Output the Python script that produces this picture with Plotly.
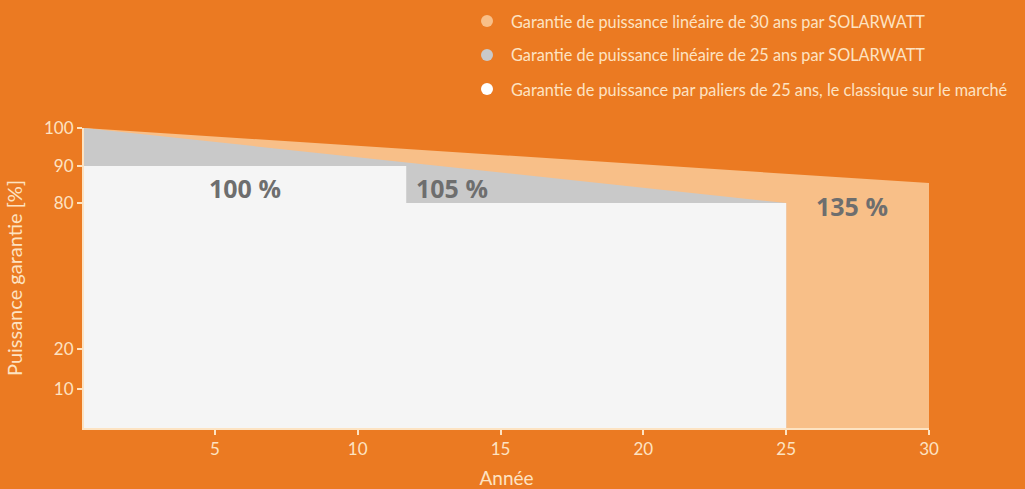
import numpy as np
import plotly.graph_objects as go

# ---- data ----
years_30 = [0.42, 30]
power_30 = [100, 85.4]
years_25 = [0.42, 25]
power_25 = [100, 80]
years_step = [0.42, 11.7, 11.7, 25]
power_step = [90, 90, 80, 80]

y_tick_values = [10, 20, 80, 90, 100]
y_tick_labels = ["10", "20", "80", "90", "100"]
x_tick_values = [5, 10, 15, 20, 25, 30]

legend_labels = [
    "Garantie de puissance linéaire de 30 ans par SOLARWATT",
    "Garantie de puissance linéaire de 25 ans par SOLARWATT",
    "Garantie de puissance par paliers de 25 ans, le classique sur le marché",
]
bonus_labels = ["100 %", "105 %", "135 %"]
bonus_years = [6.05, 13.3, 27.3]
bonus_power = [84, 84, 78.6]

# broken (compressed) y-scale of the original chart
scale_in = [0, 10, 20, 80, 90, 100]
scale_out = [0, 39, 79, 225, 262, 300]


def m(v):
    return np.interp(v, scale_in, scale_out)


BG = "#EB7A22"
LIGHT_OR = "#F8BF88"
GRAY = "#C9C9C9"
WHITE = "#F5F5F5"
CREAM = "#FDE3C2"
FONT = "Lato"

fig = go.Figure()
fig.add_trace(go.Scatter(x=years_30, y=m(power_30), fill="tozeroy", mode="lines",
                         line=dict(width=0, color=LIGHT_OR), fillcolor=LIGHT_OR,
                         hoverinfo="skip", showlegend=False))
fig.add_trace(go.Scatter(x=years_25, y=m(power_25), fill="tozeroy", mode="lines",
                         line=dict(width=0, color=GRAY), fillcolor=GRAY,
                         hoverinfo="skip", showlegend=False))
fig.add_trace(go.Scatter(x=years_step, y=m(power_step), fill="tozeroy", mode="lines",
                         line=dict(width=0, color=WHITE), fillcolor=WHITE,
                         hoverinfo="skip", showlegend=False))

for lab, xv, yv in zip(bonus_labels, bonus_years, bonus_power):
    fig.add_annotation(x=xv, y=float(m(yv)), text="<b>" + lab + "</b>", showarrow=False,
                       font=dict(family="Open Sans", size=25, color="#6E6E6E"))

legend_colors = [LIGHT_OR, GRAY, "#FFFFFF"]
legend_y = [21, 55, 89]
H = 489
for lab, col, py in zip(legend_labels, legend_colors, legend_y):
    fig.add_shape(type="circle", xref="paper", yref="paper", xsizemode="pixel",
                  ysizemode="pixel", xanchor=(487 - 84) / 845, yanchor=(H - 61 - py) / 300,
                  x0=-6, x1=6, y0=-6, y1=6, fillcolor=col, line=dict(width=0))
    fig.add_annotation(xref="paper", yref="paper", x=(509 - 84) / 845,
                       y=(H - 61 - py) / 300, text=lab, showarrow=False,
                       xanchor="left", yanchor="middle",
                       font=dict(family=FONT, size=16.3, color=CREAM))

fig.update_layout(
    width=1025, height=489,
    paper_bgcolor=BG, plot_bgcolor=BG,
    margin=dict(l=84, r=96, t=128, b=61, autoexpand=False),
    font=dict(family=FONT, color=CREAM),
    xaxis=dict(range=[0.42, 30], tickvals=x_tick_values, showgrid=False, zeroline=False,
               automargin=False,
               showline=True, linecolor=CREAM, linewidth=2, ticks="outside",
               tickcolor=CREAM, ticklen=5, tickwidth=2,
               tickfont=dict(family=FONT, size=17, color=CREAM),
               title=dict(text="Année", font=dict(family=FONT, size=19, color=CREAM),
                          standoff=14)),
    yaxis=dict(range=[0, 300], tickvals=list(m(y_tick_values)), ticktext=y_tick_labels,
               automargin=False,
               showgrid=False, zeroline=False, showline=True, linecolor=CREAM,
               linewidth=2, ticks="outside", tickcolor=CREAM, ticklen=5, tickwidth=2,
               tickfont=dict(family=FONT, size=17, color=CREAM),
               title=dict(text="Puissance garantie [%]",
                          font=dict(family=FONT, size=20, color=CREAM), standoff=16)),
)

fig.write_html("out.html", config={"displayModeBar": False},
               post_script="document.body.style.margin='0';"
                           "document.body.style.background='" + BG + "';"
                           "document.body.style.overflow='hidden';")
